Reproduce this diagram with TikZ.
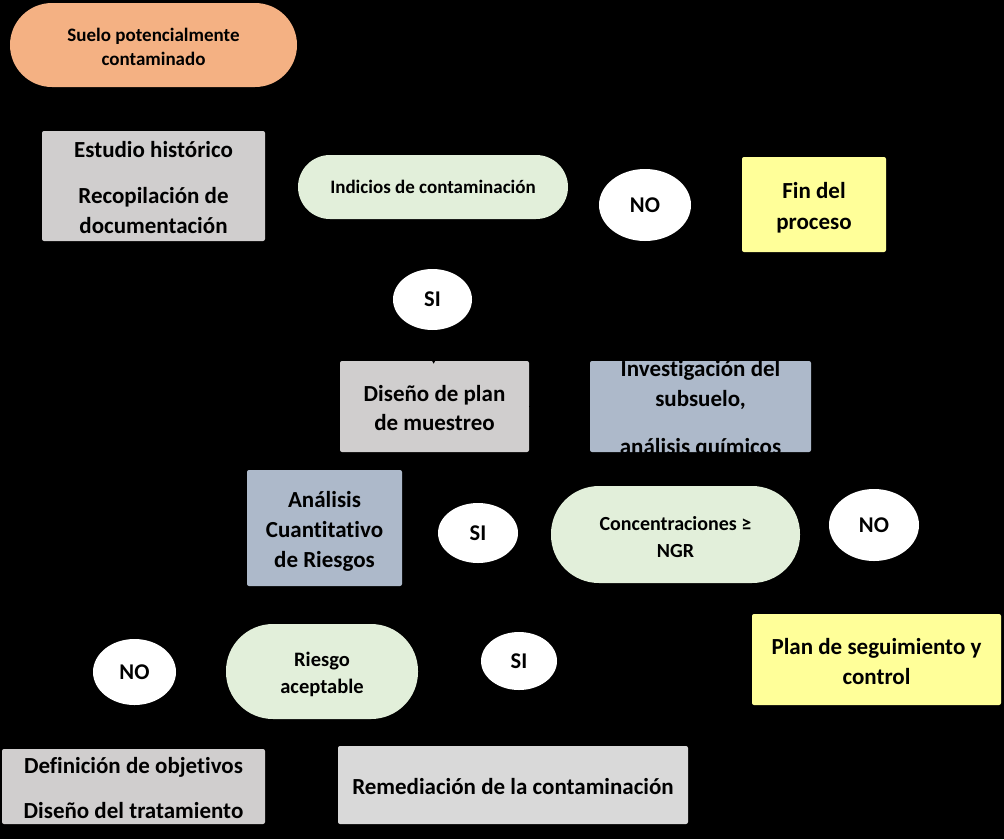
\documentclass[tikz,border=0pt]{standalone}
\usepackage{fontspec}
\setmainfont{Carlito}[Ligatures=NoCommon]
\usetikzlibrary{arrows.meta,shapes.geometric}
\definecolor{cOrange}{HTML}{F4B183}
\definecolor{cGray}{HTML}{D0CECE}
\definecolor{cLight}{HTML}{D9D9D9}
\definecolor{cBlue}{HTML}{ADB9CA}
\definecolor{cGreen}{HTML}{E2EFDA}
\definecolor{cYellow}{HTML}{FFFF99}
\tikzset{
  box/.style={rectangle, rounded corners=2pt, inner sep=0pt},
  graybox/.style={box, fill=cGray},
  bluebox/.style={box, fill=cBlue},
  yellowbox/.style={box, fill=cYellow},
  pill/.style={rectangle, inner sep=0pt, fill=cGreen},
  txt/.style={inner sep=0pt, align=center, font=\bfseries\fontsize{23}{29.5}\selectfont},
  answer/.style={ellipse, fill=white, inner sep=0pt,
    font=\bfseries\fontsize{22.5}{27}\selectfont},
  hidden/.style={draw=black, line width=1.5pt, -{Triangle[length=7pt,width=7pt]}}
}
\begin{document}
\begin{tikzpicture}[x=1pt,y=-1pt]
\fill[black] (0,0) rectangle (1004,839);
\useasboundingbox (0,0) rectangle (1004,839);

\node[pill, fill=cOrange, rounded corners=42pt, minimum width=287pt, minimum height=84pt] (suelo) at (153.5,45) {};
\node[txt, font=\bfseries\fontsize{19}{24}\selectfont] (suelot) at ([yshift=-1.5pt]suelo.center) {Suelo potencialmente\\contaminado};

\node[graybox, minimum width=223pt, minimum height=110pt] (estudio) at (153.5,186) {};
\node[txt] (estudiot) at ([yshift=-1.5pt]estudio.center) {Estudio histórico\\[17pt]Recopilación de\\documentación};

\node[pill, rounded corners=32pt, minimum width=270pt, minimum height=64pt] (indicios) at (433,187) {};
\node[txt, font=\bfseries\fontsize{19}{27}\selectfont] (indiciost) at (indicios.center) {Indicios de contaminación};

\node[answer, minimum width=92pt, minimum height=72pt] (no1) at (645,205) {NO};

\node[yellowbox, minimum width=144pt, minimum height=95pt] (fin) at (814,204.5) {};
\node[txt, font=\bfseries\fontsize{23}{31}\selectfont] (fint) at ([yshift=-3pt]fin.center) {Fin del\\proceso};

\node[answer, minimum width=79pt, minimum height=61pt] (si1) at (432.5,299.5) {SI};

\node[graybox, minimum width=189pt, minimum height=91pt] (diseno) at (434.5,406.5) {};
\node[txt] (disenot) at ([yshift=-1.5pt]diseno.center) {Diseño de plan\\de muestreo};

\node[bluebox, minimum width=221pt, minimum height=91pt] (inv) at (700.5,406.5) {};
\begin{scope}
  \clip (inv.south west) rectangle (inv.north east);
  \node[txt] (invt) at ([yshift=-3pt]inv.center)
    {Investigación del\\subsuelo,\\[19pt]análisis químicos};
\end{scope}

\node[bluebox, minimum width=155pt, minimum height=116pt] (acr) at (324.5,528) {};
\node[txt, font=\bfseries\fontsize{23}{30}\selectfont] (acrt) at ([yshift=-3pt]acr.center) {Análisis\\Cuantitativo\\de Riesgos};

\node[answer, minimum width=80pt, minimum height=60pt] (si2) at (478,533) {SI};

\node[pill, rounded corners=48pt, minimum width=249pt, minimum height=97pt] (conc) at (675.5,534.5) {};
\node[txt, font=\bfseries\fontsize{20}{27}\selectfont] (conct) at ([yshift=-3pt]conc.center) {Concentraciones ≥\\NGR};

\node[answer, minimum width=90pt, minimum height=72pt] (no2) at (874,525) {NO};

\node[yellowbox, minimum width=249pt, minimum height=91pt] (plan) at (876.5,659.5) {};
\node[txt, font=\bfseries\fontsize{23}{30}\selectfont] (plant) at ([yshift=-2pt]plan.center) {Plan de seguimiento y\\control};

\node[answer, minimum width=83pt, minimum height=66pt] (no3) at (134.5,672) {NO};

\node[pill, rounded corners=47pt, minimum width=192pt, minimum height=95pt] (riesgo) at (322,671.5) {};
\node[txt, font=\bfseries\fontsize{20.5}{27}\selectfont] (riesgot) at ([yshift=-3pt]riesgo.center) {Riesgo\\aceptable};

\node[answer, minimum width=76pt, minimum height=58pt] (si3) at (519,661) {SI};

\node[graybox, minimum width=263pt, minimum height=75pt] (def) at (133.5,786.5) {};
\node[txt, font=\bfseries\fontsize{23}{27}\selectfont] (deft) at ([yshift=-2pt]def.center) {Definición de objetivos\\[18pt]Diseño del tratamiento};

\node[box, fill=cLight, minimum width=350pt, minimum height=78pt] (rem) at (513,785) {};
\node[txt] (remt) at ([yshift=-2pt]rem.center) {Remediación de la contaminación};

% connectors (black on black, as in the reference)
\draw[hidden, shorten >=-3pt] (si1) -- (diseno);
\draw[hidden] (diseno) -- (inv);
\end{tikzpicture}
\end{document}
